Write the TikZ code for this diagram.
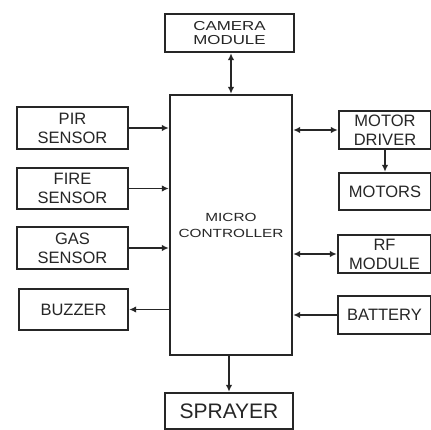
\documentclass[tikz,border=0pt]{standalone}
\usepackage{fontspec}
\setmainfont{Liberation Sans}
\newfontfamily\widefont[FakeStretch=1.3]{Liberation Sans}
\usetikzlibrary{arrows.meta,positioning}

\begin{document}
\begin{tikzpicture}[
  x=1pt, y=-1pt,
  block/.style={draw=black!85, line width=2.4pt, fill=white, align=center, inner sep=1pt,
    text=black!85, font=\fontsize{16.5}{19}\selectfont},
  msg/.style={-{Latex[length=7pt,width=6.5pt]}, line width=1.8pt, black!85},
  duplex/.style={{Latex[length=7pt,width=6.5pt]}-{Latex[length=7pt,width=6.5pt]}, line width=1.8pt, black!85}
]
\useasboundingbox[fill=white] (0,0) rectangle (431,430);

\node[block, minimum width=122pt, minimum height=260pt,
  font=\widefont\fontsize{11.8}{16}\selectfont] (mcu) at (231,225) {MICRO\\CONTROLLER};
\node[block, minimum width=129pt, minimum height=38pt,
  font=\widefont\fontsize{13}{14}\selectfont] (camera) at (229.5,33) {CAMERA\\MODULE};
\node[block, minimum width=128pt, minimum height=36pt,
  font=\fontsize{21}{24}\selectfont] (sprayer) at (229,411) {SPRAYER};

\node[block, minimum width=111pt, minimum height=42pt] (pir) at (72.5,128) {PIR\\SENSOR};
\node[block, minimum width=111pt, minimum height=41pt] (fire) at (72.5,188.5) {FIRE\\SENSOR};
\node[block, minimum width=111pt, minimum height=42pt] (gas) at (72.5,248) {GAS\\SENSOR};
\node[block, minimum width=109pt, minimum height=41pt] (buzzer) at (73.5,309.5) {BUZZER};

\node[block, minimum width=92pt, minimum height=38pt] (driver) at (385,130) {MOTOR\\DRIVER};
\node[block, minimum width=92pt, minimum height=37pt] (motors) at (385,191.5) {MOTORS};
\node[block, minimum width=93pt, minimum height=38pt] (rf) at (384.5,254) {RF\\MODULE};
\node[block, minimum width=93pt, minimum height=38pt] (battery) at (384.5,315) {BATTERY};

\draw[duplex] (camera.south -| mcu.north) -- (mcu.north);
\draw[msg] (pir.east) -- (pir.east -| mcu.west);
\draw[msg] (fire.east) -- (fire.east -| mcu.west);
\draw[msg] (gas.east) -- (gas.east -| mcu.west);
\draw[msg] (buzzer.east -| mcu.west) -- (buzzer.east);
\draw[duplex] (driver.west -| mcu.east) -- (driver.west);
\draw[msg] (driver.south) -- (motors.north);
\draw[duplex] (rf.west -| mcu.east) -- (rf.west);
\draw[msg] (battery.west) -- (battery.west -| mcu.east);
\draw[msg] (mcu.south -| sprayer.north) -- (sprayer.north);
\end{tikzpicture}
\end{document}
